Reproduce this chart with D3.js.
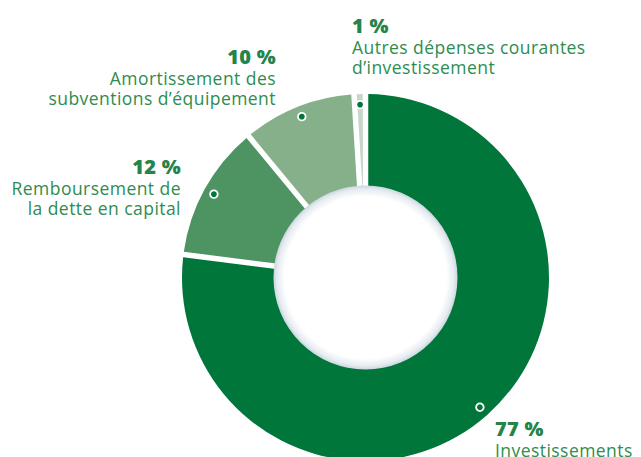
<!DOCTYPE html>
<html>
<head>
<meta charset="utf-8">
<script src="https://cdn.jsdelivr.net/npm/d3@7"></script>
<style>
  html, body { margin: 0; padding: 0; background: #ffffff; }
  svg { display: block; }
</style>
</head>
<body>
<svg id="chart" width="641" height="457"></svg>
<script>
// ---- Data ----
const categories = [
  "Investissements",
  "Remboursement de la dette en capital",
  "Amortissement des subventions d’équipement",
  "Autres dépenses courantes d’investissement"
];
const values = [77, 12, 10, 1];
const percentLabels = ["77 %", "12 %", "10 %", "1 %"];
const labelLines = [
  ["Investissements"],
  ["Remboursement de", "la dette en capital"],
  ["Amortissement des", "subventions d’équipement"],
  ["Autres dépenses courantes", "d’investissement"]
];

// ---- Styles / layout ----
const sliceColors = ["#00763a", "#4e9462", "#86b08a", "#c6d7c7"];
const textColor = "#2e8c50";
const pctColor = "#24844a";
const cx = 365.5, cy = 277.5;
const outerR = 183.5, innerR = 80, holeR = 92, dotR = 173;
const labelLayout = [
  { x: 495, y: 436, anchor: "start" },
  { x: 181, y: 174, anchor: "end" },
  { x: 276, y: 64, anchor: "end" },
  { x: 352, y: 33, anchor: "start" }
];
const fontFamily = "'Open Sans', 'DejaVu Sans', sans-serif";

const svg = d3.select("#chart");
const defs = svg.append("defs");
const grad = defs.append("radialGradient").attr("id", "holeGrad");
grad.append("stop").attr("offset", "0%").attr("stop-color", "#ffffff");
grad.append("stop").attr("offset", "88%").attr("stop-color", "#ffffff");
grad.append("stop").attr("offset", "96%").attr("stop-color", "#e6ecf1");
grad.append("stop").attr("offset", "100%").attr("stop-color", "#cbd6df");

const data = categories.map((c, i) => ({ name: c, value: values[i], i }));

const pie = d3.pie().sort(null).value(d => d.value).startAngle(0).endAngle(2 * Math.PI);
const arcs = pie(data);

const arc = d3.arc()
  .innerRadius(innerR)
  .outerRadius(outerR)
  .padAngle(5.5 / outerR)
  .padRadius(outerR);

const dotArc = d3.arc().innerRadius(dotR).outerRadius(dotR);

const g = svg.append("g").attr("transform", `translate(${cx},${cy})`);

g.selectAll("path.slice")
  .data(arcs)
  .join("path")
  .attr("class", "slice")
  .attr("d", arc)
  .attr("fill", d => sliceColors[d.data.i]);

g.append("circle")
  .attr("r", holeR)
  .attr("fill", "url(#holeGrad)");

g.selectAll("circle.dot")
  .data(arcs)
  .join("circle")
  .attr("class", "dot")
  .attr("transform", d => `translate(${dotArc.centroid(d)})`)
  .attr("r", 3.8)
  .attr("fill", sliceColors[0])
  .attr("stroke", "#ffffff")
  .attr("stroke-width", 1.8);

// ---- Labels ----
data.forEach((d, i) => {
  const L = labelLayout[i];
  const t = svg.append("text")
    .attr("x", L.x)
    .attr("y", L.y)
    .attr("text-anchor", L.anchor)
    .attr("font-family", fontFamily);
  t.append("tspan")
    .attr("x", L.x)
    .attr("font-size", 20)
    .attr("font-weight", 800)
    .attr("letter-spacing", 0.3)
    .attr("fill", pctColor)
    .text(percentLabels[i]);
  labelLines[i].forEach((line, j) => {
    t.append("tspan")
      .attr("x", L.x)
      .attr("dy", j === 0 ? 20.5 : 20)
      .attr("font-size", 17.5)
      .attr("letter-spacing", 0.45)
      .attr("fill", textColor)
      .text(line);
  });
});
</script>
</body>
</html>
